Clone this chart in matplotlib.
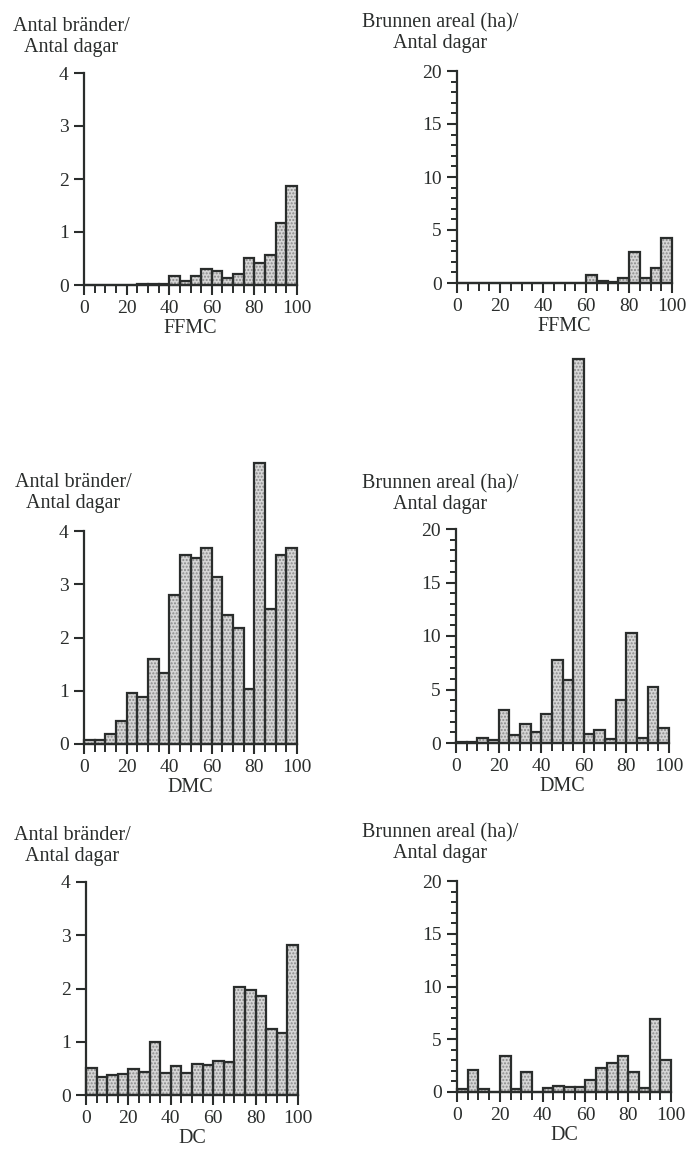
import numpy as np
import matplotlib.pyplot as plt
from matplotlib.ticker import MultipleLocator

plt.rcParams['font.family'] = ['Liberation Serif', 'DejaVu Serif']
plt.rcParams['hatch.linewidth'] = 1.0

# bin left edges (width 5) shared by all panels
bins = np.arange(0, 100, 5)

# antal bränder / antal dagar
ffmc_fires = [0, 0, 0, 0, 0, 0.01, 0.01, 0.01, 0.17, 0.08,
              0.17, 0.31, 0.26, 0.13, 0.21, 0.51, 0.42, 0.56, 1.17, 1.86]
dmc_fires = [0.07, 0.08, 0.18, 0.43, 0.96, 0.88, 1.59, 1.33, 2.8, 3.55,
             3.49, 3.69, 3.14, 2.42, 2.18, 1.03, 5.28, 2.53, 3.55, 3.69]
dc_fires = [0.51, 0.34, 0.37, 0.4, 0.48, 0.44, 1.0, 0.41, 0.54, 0.42,
            0.59, 0.56, 0.64, 0.62, 2.03, 1.97, 1.86, 1.24, 1.17, 2.81]

# brunnen areal (ha) / antal dagar
ffmc_area = [0, 0, 0, 0, 0, 0, 0, 0, 0, 0,
             0, 0, 0.78, 0.2, 0.1, 0.44, 2.95, 0.44, 1.38, 4.27]
dmc_area = [0.05, 0.05, 0.5, 0.31, 3.06, 0.75, 1.81, 1.0, 2.68, 7.8,
            5.86, 35.9, 0.87, 1.25, 0.4, 4.0, 10.3, 0.44, 5.24, 1.37]
dc_area = [0.31, 2.05, 0.3, 0.0, 3.43, 0.25, 1.93, 0.0, 0.41, 0.6,
           0.47, 0.45, 1.17, 2.3, 2.74, 3.37, 1.93, 0.41, 6.9, 3.0]

fires_label = 'Antal bränder/\nAntal dagar'
area_label = 'Brunnen areal (ha)/\nAntal dagar'

W, H = 688, 1150
fig = plt.figure(figsize=(W / 100, H / 100), dpi=100)

# (values, xlabel, ylabel, ymax, major, minor, axes box px [x0, y0top, x1, y1bottom], label centre px)
panels = [
    (ffmc_fires, 'FFMC', fires_label, 4, 1, None, [84, 73, 297, 285], (71, 37)),
    (ffmc_area, 'FFMC', area_label, 20, 5, 1, [457, 71, 672, 283], (440, 33)),
    (dmc_fires, 'DMC', fires_label, 4, 1, None, [84, 531, 297, 744], (73, 493)),
    (dmc_area, 'DMC', area_label, 20, 5, 1, [456, 529, 669, 743], (440, 494)),
    (dc_fires, 'DC', fires_label, 4, 1, None, [86, 882, 298, 1095], (72, 846)),
    (dc_area, 'DC', area_label, 20, 5, 1, [457, 881, 671, 1092], (440, 843)),
]

ink = '#2a2d2c'

for vals, xl, yl, ymax, major, minor, box, lab in panels:
    x0, yt, x1, yb = box
    ax = fig.add_axes([x0 / W, 1 - yb / H, (x1 - x0) / W, (yb - yt) / H])
    # stipple fill, then dark outline on top
    ax.bar(bins, vals, width=5, align='edge', facecolor='#d6d6d6',
           edgecolor='#8a8a8a', hatch='.....', linewidth=0, clip_on=False, zorder=2)
    ax.bar(bins, vals, width=5, align='edge', fill=False,
           edgecolor=ink, linewidth=1.6, clip_on=False, zorder=3)
    ax.set_xlim(0, 100)
    ax.set_ylim(0, ymax)
    ax.spines['top'].set_visible(False)
    ax.spines['right'].set_visible(False)
    for s in ('left', 'bottom'):
        ax.spines[s].set_linewidth(1.6)
        ax.spines[s].set_color(ink)
        ax.spines[s].set_zorder(4)
    ax.xaxis.set_major_locator(MultipleLocator(20))
    ax.xaxis.set_minor_locator(MultipleLocator(5))
    ax.yaxis.set_major_locator(MultipleLocator(major))
    if minor:
        ax.yaxis.set_minor_locator(MultipleLocator(minor))
    else:
        ax.yaxis.set_minor_locator(plt.NullLocator())
    ax.tick_params(axis='both', which='major', length=7, width=1.5,
                   color=ink, labelcolor=ink, labelsize=14, pad=4)
    ax.tick_params(axis='both', which='minor', length=6, width=1.4, color=ink)
    ax.tick_params(axis='y', which='minor', length=4)
    ax.set_xlabel(xl, fontsize=14.5, color=ink, labelpad=1)
    ax.patch.set_alpha(0)
    fig.text(lab[0] / W, 1 - lab[1] / H, yl, ha='center', va='center',
             fontsize=14.5, color=ink, linespacing=1.1)

fig.savefig('out.png', dpi=100)
